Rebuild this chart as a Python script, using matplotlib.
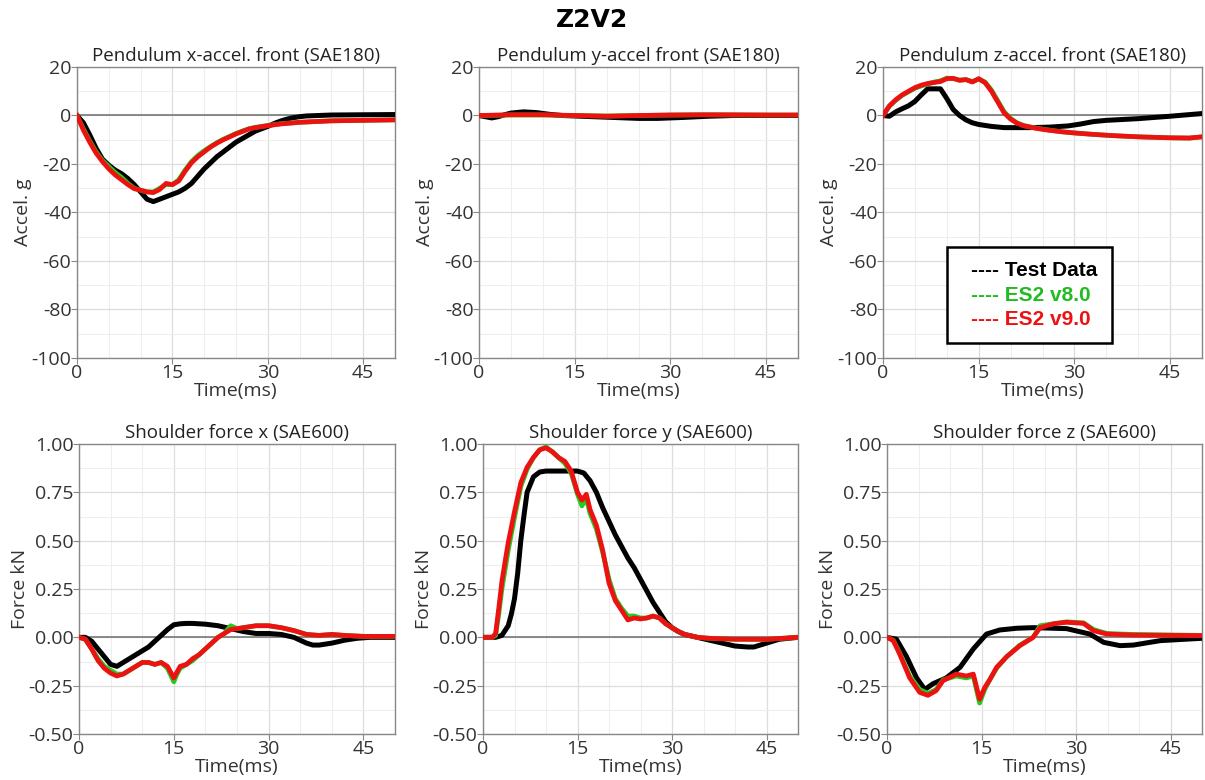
import numpy as np
import matplotlib.pyplot as plt
from matplotlib.lines import Line2D
from matplotlib.ticker import MultipleLocator, FormatStrFormatter

plt.rcParams['font.family'] = ['Open Sans', 'DejaVu Sans']
plt.rcParams['axes.unicode_minus'] = False

# ---- Pendulum x-accel. front (SAE180) ----
ax_t_test = [0, 1, 2, 3, 4, 5, 6, 7, 8, 9, 10, 11, 12, 13, 14, 15, 16, 17, 18, 19, 20,
             21, 22, 23, 24, 25, 26, 27, 28, 29, 30, 31, 32, 33, 34, 35, 36, 40, 45, 50]
ax_test = [0, -3, -8, -13.5, -18, -20.5, -22.5, -24, -26, -28.5, -31.5, -34.5, -35.5, -34.5,
           -33.5, -32.5, -31.5, -30, -28, -25, -22, -19.5, -17, -15, -13, -11, -9.5, -8, -6.5,
           -5.5, -4.5, -3.3, -2.3, -1.5, -0.9, -0.5, -0.2, 0.2, 0.3, 0.4]
ax_t_v9 = [0, 1, 2, 3, 4, 5, 6, 7, 8, 9, 10, 11, 12, 13, 14, 15, 16, 17, 18, 19, 20, 21,
           22, 23, 24, 25, 26, 27, 28, 29, 30, 32, 35, 40, 45, 50]
ax_v9 = [0, -6, -11, -15.5, -19, -22, -24.5, -26.5, -28.5, -30.2, -30.8, -31.5, -31.8, -30.5,
         -28, -28.5, -27, -23, -19.5, -17, -15, -13, -11.4, -10, -8.8, -7.6, -6.6, -5.6, -5,
         -4.6, -4.2, -3.5, -2.8, -2.2, -2, -1.8]
ax_v8 = [0, -5.5, -10.5, -15, -18.5, -21, -23.5, -25.5, -28, -30, -30.8, -31.5, -31.5, -30,
         -28.5, -28.5, -26.5, -22.5, -19, -16.5, -14.5, -12.8, -11.2, -9.8, -8.6, -7.4, -6.4,
         -5.5, -4.9, -4.5, -4.1, -3.4, -2.8, -2.2, -2, -1.8]

# ---- Pendulum y-accel front (SAE180) ----
ay_t_test = [0, 1, 2, 3, 4, 5, 7, 9, 11, 13, 15, 20, 25, 28, 32, 36, 40, 45, 50]
ay_test = [0, -0.5, -1, -0.5, 0.3, 1, 1.5, 1.2, 0.5, 0, -0.2, -0.7, -1.2, -1.2, -0.8, -0.3, 0, 0, 0]
ay_t_v9 = [0, 5, 10, 15, 20, 25, 30, 35, 40, 45, 50]
ay_v9 = [0, 0.3, 0.3, 0, -0.3, 0, 0.2, 0.3, 0.3, 0.2, 0.2]
ay_v8 = [0, 0.2, 0.2, 0, -0.2, 0, 0.2, 0.3, 0.2, 0.2, 0.2]

# ---- Pendulum z-accel. front (SAE180) ----
az_t_test = [0, 1, 2, 3, 4, 5, 6, 7, 8, 9, 10, 11, 12, 13, 14, 15, 17, 19, 23, 26, 29, 31,
             33, 35, 40, 45, 50]
az_test = [0, -0.3, 1.5, 2.8, 4, 5.8, 8.5, 11, 11, 11, 7, 2.5, 0, -1.8, -3, -3.7, -4.5, -5,
           -5, -4.8, -4.3, -3.5, -2.5, -2, -1.3, -0.3, 0.8]
az_t_v9 = [0, 1, 2, 3, 4, 5, 6, 7, 8, 9, 10, 11, 12, 13, 14, 15, 16, 17, 18, 19, 20, 21, 22,
           24, 26, 28, 30, 33, 36, 40, 45, 48, 50]
az_v9 = [0, 4, 6.5, 8.5, 10, 11.5, 12.5, 13.2, 13.6, 14, 15.2, 15.3, 14.5, 14.8, 13.8, 15.2,
         13.5, 10, 5.5, 1, -1.5, -3.2, -4.2, -5.3, -6.1, -6.7, -7.2, -7.8, -8.3, -8.8, -9.2,
         -9.3, -8.8]
az_v8 = [0, 3.8, 6.3, 8.3, 9.8, 11.2, 12.2, 13, 13.8, 14.3, 15.4, 15.3, 14.6, 14.8, 14,
         15, 13.8, 10.5, 6, 1.5, -1.2, -3, -4.1, -5.2, -6, -6.7, -7.2, -7.8, -8.3, -8.8,
         -9.2, -9.3, -8.8]

# ---- Shoulder force x (SAE600) ----
fx_t_test = [0, 1, 2, 3, 4, 5, 6, 7, 8, 9, 10, 11, 12, 13, 14, 15, 16, 17, 18, 19, 20, 22,
             24, 26, 28, 30, 32, 34, 36, 37, 38, 40, 42, 44, 46, 50]
fx_test = [0, 0, -0.02, -0.06, -0.1, -0.14, -0.15, -0.13, -0.11, -0.09, -0.07, -0.05, -0.02,
           0.01, 0.04, 0.065, 0.07, 0.072, 0.072, 0.07, 0.068, 0.06, 0.045, 0.03, 0.02, 0.02,
           0.015, 0.0, -0.03, -0.04, -0.04, -0.03, -0.015, -0.005, 0, 0]
fx_t_v9 = [0, 1, 2, 3, 4, 5, 6, 7, 8, 9, 10, 11, 12, 13, 14, 15, 15.5, 16, 17, 18, 19, 20,
           21, 22, 23, 24, 25, 26, 28, 30, 32, 34, 36, 38, 40, 42, 45, 50]
fx_v9 = [0, -0.01, -0.06, -0.12, -0.16, -0.185, -0.2, -0.19, -0.17, -0.15, -0.13, -0.13,
         -0.14, -0.13, -0.15, -0.21, -0.18, -0.15, -0.14, -0.11, -0.09, -0.06, -0.03, 0.0,
         0.02, 0.04, 0.045, 0.05, 0.06, 0.06, 0.05, 0.035, 0.015, 0.01, 0.015, 0.01, 0.005, 0.005]
fx_v8 = [0, -0.01, -0.06, -0.11, -0.15, -0.17, -0.19, -0.19, -0.17, -0.15, -0.13, -0.13,
         -0.14, -0.13, -0.16, -0.23, -0.19, -0.16, -0.14, -0.12, -0.09, -0.06, -0.03, 0.0,
         0.02, 0.06, 0.045, 0.05, 0.06, 0.06, 0.05, 0.035, 0.015, 0.01, 0.015, 0.01, 0.005, 0.005]

# ---- Shoulder force y (SAE600) ----
fy_t_test = [0, 2, 3, 4, 4.5, 5, 5.5, 6, 6.5, 7, 8, 9, 10, 12, 14, 15, 16, 17, 18, 19, 20,
             21, 22, 23, 24, 25, 26, 27, 28, 29, 30, 31, 32, 34, 38, 40, 42, 43, 45, 47, 50]
fy_test = [0, 0, 0.01, 0.06, 0.12, 0.2, 0.33, 0.5, 0.63, 0.75, 0.83, 0.855, 0.86, 0.86, 0.86,
           0.86, 0.85, 0.81, 0.75, 0.67, 0.6, 0.53, 0.47, 0.41, 0.36, 0.3, 0.24, 0.18, 0.13,
           0.08, 0.05, 0.03, 0.015, 0.0, -0.03, -0.045, -0.05, -0.05, -0.03, -0.01, 0]
fy_t_v9 = [0, 1.5, 2, 2.5, 3, 4, 5, 6, 7, 8, 9, 10, 11, 12, 13, 14, 15, 15.7, 16.4, 17, 18,
           19, 20, 21, 22, 23, 24, 25, 26, 27, 28, 29, 30, 31, 32, 34, 36, 40, 45, 50]
fy_v9 = [0, 0, 0.02, 0.15, 0.29, 0.49, 0.65, 0.8, 0.88, 0.93, 0.97, 0.98, 0.96, 0.93, 0.91,
         0.86, 0.75, 0.71, 0.74, 0.66, 0.58, 0.45, 0.28, 0.19, 0.14, 0.09, 0.1, 0.095, 0.1,
         0.11, 0.1, 0.07, 0.05, 0.03, 0.015, 0.0, -0.005, -0.01, -0.01, 0]
fy_v8 = [0, 0, 0.01, 0.12, 0.25, 0.45, 0.62, 0.78, 0.87, 0.93, 0.97, 0.985, 0.96, 0.93, 0.9,
         0.85, 0.74, 0.68, 0.72, 0.64, 0.56, 0.44, 0.3, 0.2, 0.15, 0.11, 0.11, 0.1, 0.1,
         0.11, 0.1, 0.07, 0.05, 0.03, 0.015, 0.0, -0.005, -0.01, -0.01, 0]

# ---- Shoulder force z (SAE600) ----
fz_t_test = [0, 1.5, 3.1, 4.7, 6, 7.3, 9.4, 11.6, 13.7, 15.8, 17.9, 20.6, 23.2, 28.5, 32.2,
             34.4, 37, 39.1, 43.4, 50]
fz_test = [0, -0.01, -0.1, -0.21, -0.27, -0.24, -0.21, -0.155, -0.06, 0.017, 0.038, 0.047,
           0.05, 0.045, 0.017, -0.026, -0.043, -0.04, -0.017, -0.005]
fz_t_v9 = [0, 1, 2, 3.6, 5.2, 6.5, 7.8, 8.9, 11, 12.6, 13.7, 14.7, 15.5, 16.3, 17.4, 19,
           21.1, 23.2, 24.3, 26.4, 28.5, 31.2, 32.8, 34.9, 39, 50]
fz_v9 = [0, -0.017, -0.086, -0.21, -0.285, -0.3, -0.276, -0.224, -0.19, -0.2, -0.19, -0.32,
         -0.26, -0.22, -0.155, -0.1, -0.043, 0, 0.05, 0.07, 0.078, 0.072, 0.034, 0.017, 0.012,
         0.009]
fz_v8 = [0, -0.015, -0.08, -0.2, -0.27, -0.29, -0.27, -0.22, -0.2, -0.21, -0.2, -0.34,
         -0.27, -0.22, -0.16, -0.1, -0.04, 0.0, 0.06, 0.07, 0.08, 0.075, 0.04, 0.02, 0.015,
         0.01]

titles = ["Pendulum x-accel. front (SAE180)", "Pendulum y-accel front (SAE180)",
          "Pendulum z-accel. front (SAE180)", "Shoulder force x (SAE600)",
          "Shoulder force y (SAE600)", "Shoulder force z (SAE600)"]
panels = [
    (ax_t_test, ax_test, ax_t_v9, ax_v8, ax_v9),
    (ay_t_test, ay_test, ay_t_v9, ay_v8, ay_v9),
    (az_t_test, az_test, az_t_v9, az_v8, az_v9),
    (fx_t_test, fx_test, fx_t_v9, fx_v8, fx_v9),
    (fy_t_test, fy_test, fy_t_v9, fy_v8, fy_v9),
    (fz_t_test, fz_test, fz_t_v9, fz_v8, fz_v9),
]

W, H = 1205, 780
fig = plt.figure(figsize=(W / 100, H / 100), dpi=100)
# axes boxes in pixels: left, top, right, bottom
boxes = [(77, 67, 395, 358), (479, 67, 798, 358), (883, 67, 1202, 358),
         (79, 444, 395, 734), (483, 444, 798, 734), (887, 444, 1202, 734)]

axes = []
for i, (l, t, r, b) in enumerate(boxes):
    ax = fig.add_axes([l / W, 1 - b / H, (r - l) / W, (b - t) / H])
    tt, test, tm, v8, v9 = panels[i]
    ax.axhline(0, color='#777777', lw=1.2, zorder=1)
    ax.plot(tt, test, color='black', lw=3.6, zorder=3, solid_capstyle='round')
    ax.plot(tm, v8, color='#22cc22', lw=3.4, zorder=4)
    ax.plot(tm, v9, color='#ee1111', lw=3.4, zorder=5)
    ax.set_xlim(0, 50)
    ax.xaxis.set_major_locator(MultipleLocator(15))
    ax.xaxis.set_minor_locator(MultipleLocator(5))
    if i < 3:
        ax.set_ylim(-100, 20)
        ax.yaxis.set_major_locator(MultipleLocator(20))
        ax.yaxis.set_minor_locator(MultipleLocator(10))
        ax.set_ylabel("Accel. g", fontsize=14, color='#333333', labelpad=0)
    else:
        ax.set_ylim(-0.5, 1.0)
        ax.yaxis.set_major_locator(MultipleLocator(0.25))
        ax.yaxis.set_minor_locator(MultipleLocator(0.125))
        ax.yaxis.set_major_formatter(FormatStrFormatter('%.2f'))
        ax.set_ylabel("Force kN", fontsize=14, color='#333333', labelpad=0)
    ax.grid(which='major', color='#dddddd', lw=0.9)
    ax.grid(which='minor', color='#eeeeee', lw=0.8)
    ax.set_axisbelow(True)
    ax.set_title(titles[i], fontsize=13.5, color='#222222', pad=4)
    ax.set_xlabel("Time(ms)", fontsize=14, color='#333333', labelpad=0)
    ax.tick_params(which='major', labelsize=14, labelcolor='#333333', color='#888888',
                   length=4, pad=0)
    ax.tick_params(which='minor', length=0)
    for s in ax.spines.values():
        s.set_color('#888888')
        s.set_linewidth(1.0)
    axes.append(ax)

fig.text(592 / W, 1 - 20 / H, "Z2V2", ha='center', va='center', fontsize=18,
         fontweight='bold', family='DejaVu Sans')

blank = [Line2D([], [], linestyle='none') for _ in range(3)]
leg = axes[2].legend(blank, ["---- Test Data", "---- ES2 v8.0", "---- ES2 v9.0"],
                     loc='upper left', bbox_to_anchor=(0.2, 0.052, 0.518, 0.329),
                     mode='expand', borderaxespad=0, handlelength=0.5, handletextpad=0,
                     borderpad=0.65, labelspacing=0.28, fancybox=False, framealpha=1,
                     labelcolor=['black', '#22bb22', '#ee1111'],
                     prop={'family': 'Liberation Sans', 'weight': 'bold', 'size': 15})
leg.get_frame().set_edgecolor('black')
leg.get_frame().set_linewidth(1.8)

fig.savefig("out.png", dpi=100)
